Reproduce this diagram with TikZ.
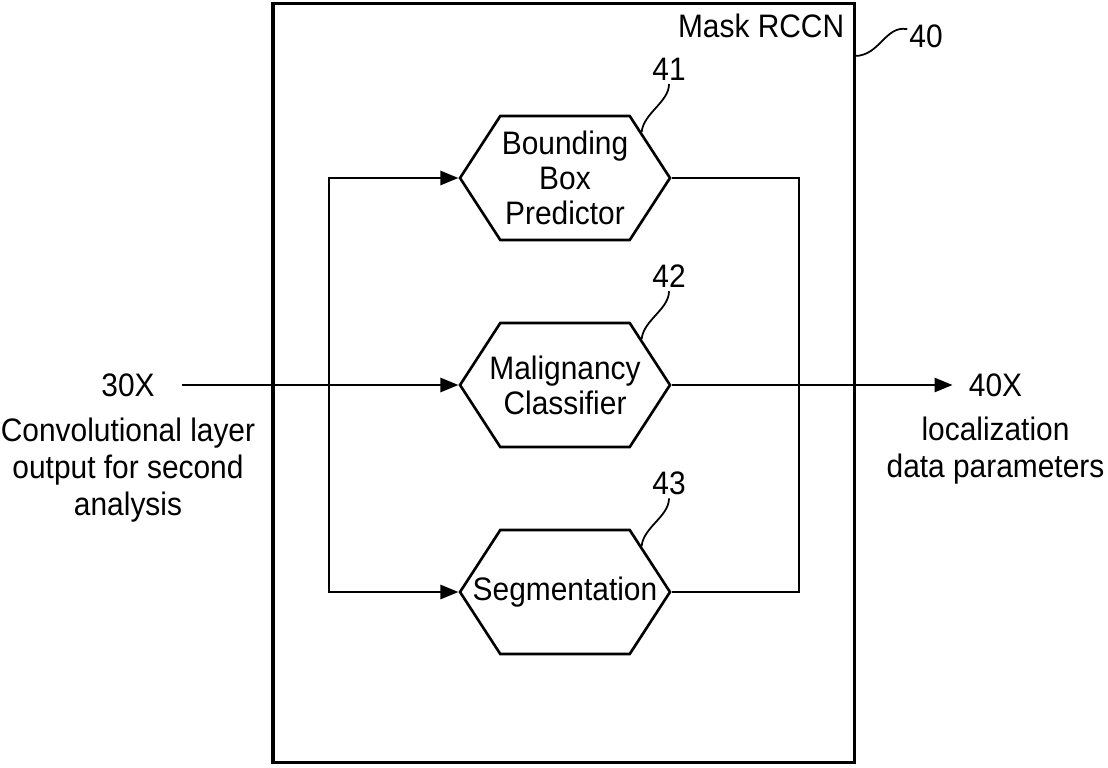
\documentclass[tikz,border=0pt]{standalone}
\usepackage{fontspec}
\setmainfont{Liberation Sans}[FakeStretch=0.92]
\usetikzlibrary{positioning,shapes.symbols,arrows.meta}

\begin{document}
\begin{tikzpicture}[x=0.02cm,y=-0.02cm, font=\fontsize{18.5}{20}\selectfont,
  >={Triangle[length=0.36cm,width=0.28cm]},
  conn/.style={line width=1.5pt},
  lead/.style={line width=1pt},
  hexa/.style={shape=signal, signal to=west and east, signal pointer angle=114,
    draw, line width=1.5pt, minimum width=4.2cm, minimum height=2.48cm,
    inner sep=0pt},
  headtxt/.style={inner sep=0pt, align=center},
  txt/.style={inner sep=0pt, align=center, font=\fontsize{18.5}{21}\selectfont}]

\useasboundingbox (0,0) rectangle (1108,767);

% ===== Mask RCCN frame =====
\node[draw, line width=1.8pt, minimum width=11.63cm, minimum height=15.18cm] (rccn) at (563.75,383) {};
\node[anchor=north east, inner sep=0.23cm] (mask) at (rccn.north east) {Mask RCCN};
\node[inner sep=1pt] (l40) at (926,36) {40};
\coordinate (t40) at (854.5,56);
\draw[lead] (t40) .. controls (880,56) and (885,25) .. (l40.160);

% ===== the three heads =====
% shapes first, text on top (it runs into the pointed ends)
\node[hexa] (hb) at (565,178) {};
\node[hexa] (hm) at (565,385) {};
\node[hexa] (hs) at (565,592) {};
\node[headtxt] (hbtxt) at (hb) {Bounding\\Box\\Predictor};
\node[headtxt] (hmtxt) at (hm) {Malignancy\\Classifier};
\node[headtxt] (hstxt) at (hs) {Segmentation};

\foreach \h/\n in {hb/41, hm/42, hs/43} {
  \node[inner sep=2pt] (l\n) at ([shift={(104,-109)}]\h.center) {\n};
  \draw[lead] (l\n.south) .. controls +(0,18) and +(2,-19) .. (\h.31);
}

% ===== input / output =====
\node[txt, inner xsep=0.54cm] (in) at (128,385) {30X};
\node[txt, below=0.42cm of in] (indesc) {Convolutional layer\\output for second\\analysis};
\node[txt, inner xsep=0.32cm] (out) at (995.5,385) {40X};
\node[txt, below=0.4cm of out] (outdesc) {localization\\data parameters};

\coordinate (split) at (329,385);
\coordinate (join) at (799,385);

\draw[conn,->] (in.east) -- (hm.west);
\draw[conn,->] (split) |- (hb.west);
\draw[conn,->] (split) |- (hs.west);
\draw[conn] (hb.east) -| (join) |- (hs.east);
\draw[conn,->] (hm.east) -- (out.west);

\end{tikzpicture}
\end{document}
